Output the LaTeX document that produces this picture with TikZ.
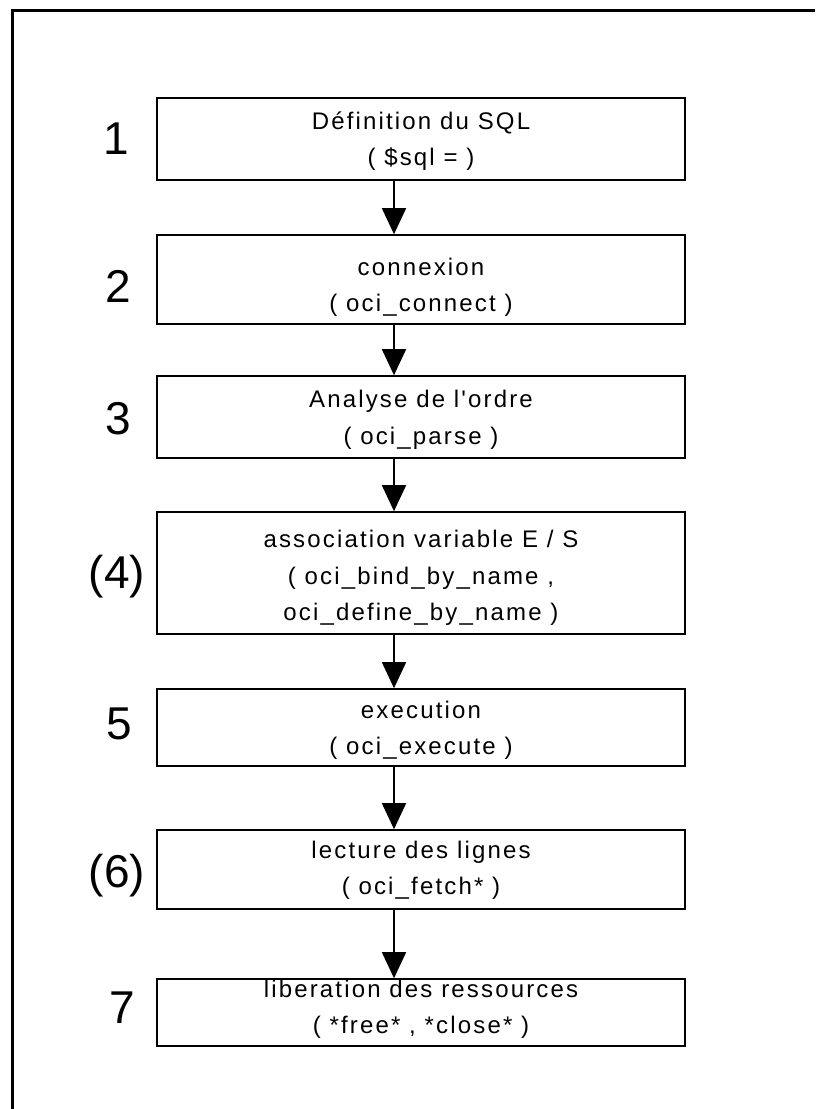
\documentclass[tikz,border=0pt]{standalone}
\usepackage{fontspec}
\usetikzlibrary{arrows.meta}
\newfontfamily\boxfont{Liberation Sans}[LetterSpace=9,Ligatures={TeXOff,NoCommon}]
\newfontfamily\numfont{Liberation Sans}
\tikzset{
  stepbox/.style={draw=black, line width=1.6pt, fill=white, minimum width=528pt, inner sep=0pt},
  steptext/.style={align=center, inner sep=0pt, font=\boxfont\fontsize{24}{36.5}\selectfont},
  numlabel/.style={inner sep=0pt, font=\numfont\fontsize{46}{46}\selectfont},
  flow/.style={line width=1.6pt, -{Triangle[width=24pt,length=26pt]}},
  frame/.style={line width=3pt, black}
}
\begin{document}
\begin{tikzpicture}[x=1pt,y=-1pt]
\useasboundingbox (0,0) rectangle (815,1109);
\fill[white] (0,0) rectangle (815,1109);
% frame (top and left edges)
\coordinate (fa) at (12,1109);
\coordinate (fb) at (12,10);
\coordinate (fc) at (815,10);
\draw[frame] (fa) -- (fb) -- (fc);
% boxes
\node[stepbox, minimum height=82pt]  (b1) at (421,139) {};
\node[stepbox, minimum height=89pt]  (b2) at (421,279.5) {};
\node[stepbox, minimum height=82pt]  (b3) at (421,417) {};
\node[stepbox, minimum height=122pt] (b4) at (421,573) {};
\node[stepbox, minimum height=77pt]  (b5) at (421,727.5) {};
\node[stepbox, minimum height=79pt]  (b6) at (421,869.5) {};
\node[stepbox, minimum height=67pt]  (b7) at (421,1012.5) {};
% texts
\node[steptext] (t1) at ([yshift=-2pt]b1.center) {Définition du SQL\\( \$sql = )};
\node[steptext] (t2) at ([yshift=-8pt]b2.center) {connexion\\( oci\_connect )};
\node[steptext] (t3) at ([yshift=-3pt]b3.center) {Analyse de l'ordre\\( oci\_parse )};
\node[steptext] (t4) at ([yshift=-5pt]b4.center) {association variable E / S\\( oci\_bind\_by\_name ,\\oci\_define\_by\_name )};
\node[steptext] (t5) at ([yshift=-3pt]b5.center) {execution\\( oci\_execute )};
\node[steptext] (t6) at ([yshift=-1pt]b6.center) {lecture des lignes\\( oci\_fetch* )};
\node[steptext] (t7) at ([yshift=3pt]b7.center) {liberation des ressources\\( *free* , *close* )};
% numbers
\node[numlabel] (n1) at (116,139) {1};
\node[numlabel] (n2) at (118,286) {2};
\node[numlabel] (n3) at (118,419) {3};
\node[numlabel] (n4) at (117,577) {(4)};
\node[numlabel] (n5) at (119,724) {5};
\node[numlabel] (n6) at (117,876) {(6)};
\node[numlabel] (n7) at (122,1008) {7};
% arrows
\coordinate (ax) at (394,0);
\draw[flow] (b1.south -| ax) -- (b2.north -| ax);
\draw[flow] (b2.south -| ax) -- (b3.north -| ax);
\draw[flow] (b3.south -| ax) -- (b4.north -| ax);
\draw[flow] (b4.south -| ax) -- (b5.north -| ax);
\draw[flow] (b5.south -| ax) -- (b6.north -| ax);
\draw[flow] (b6.south -| ax) -- (b7.north -| ax);
\end{tikzpicture}
\end{document}
